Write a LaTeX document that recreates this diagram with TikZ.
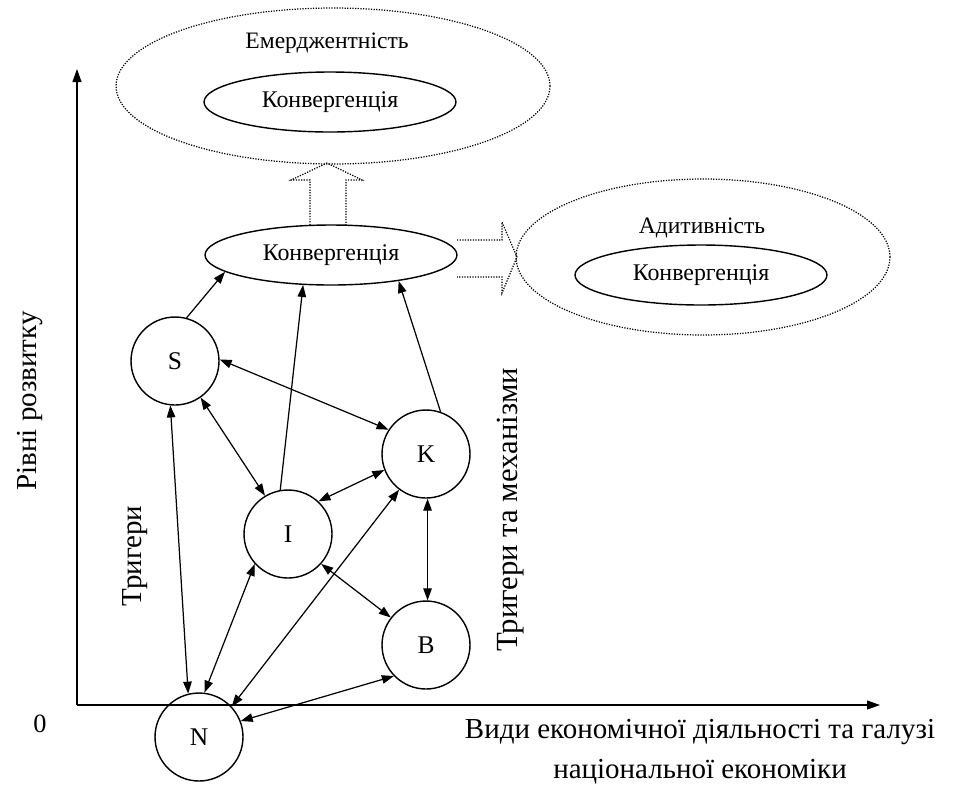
\documentclass[tikz,border=0pt]{standalone}
\usepackage{fontspec}
\setmainfont{Liberation Serif}
\usetikzlibrary{shapes.geometric,arrows.meta}

\begin{document}
\begin{tikzpicture}[x=0.02cm,y=-0.02cm,
  circ/.style={circle,draw,line width=0.8pt,minimum size=1.76cm,inner sep=0pt,
    font=\fontsize{14.5}{16}\selectfont},
  oval/.style={ellipse,draw,line width=0.8pt,minimum width=5.04cm,minimum height=1.2cm,
    inner sep=0pt,font=\fontsize{13.6}{15}\selectfont},
  dotoval/.style={ellipse,draw,line width=0.7pt,dash pattern=on 0.7pt off 0.8pt,inner sep=0pt},
  hollow/.style={line width=0.7pt,dash pattern=on 0.7pt off 0.8pt},
  link/.style={line width=0.7pt,-{Triangle[length=2.4mm,width=1.7mm]}},
  twoway/.style={line width=0.7pt,
    {Triangle[length=2.4mm,width=1.7mm]}-{Triangle[length=2.4mm,width=1.7mm]}},
  axis/.style={line width=0.6pt,-{Triangle[length=2.6mm,width=1.8mm]}},
  big/.style={font=\fontsize{16.5}{22.7}\selectfont},
  small/.style={font=\fontsize{13.4}{15}\selectfont}]
\useasboundingbox (0,0) rectangle (959,789);

\coordinate (o) at (77,705);
\draw[axis] (o) -- (77,69);
\draw[axis] (o) -- (880,705);
\node[font=\fontsize{15}{16}\selectfont] (zero) at (40,724) {0};
\node[big,rotate=90] (ylab) at (30,401) {Рівні розвитку};
\node[big,align=center] (xlab) at (700,752) {Види економічної діяльності та галузі\\
  національної економіки};
\node[big,rotate=90] (trig) at (135,556) {Тригери};
\node[big,rotate=90,font=\fontsize{17.5}{20}\selectfont] (trigmech) at (511,510) {Тригери та механізми};

\node[dotoval,minimum width=8.68cm,minimum height=3.12cm] (emer) at (333,86) {};
\node[small] (emertxt) at (327,43) {Емерджентність};
\node[oval] (emconv) at (330,102) {Конвергенція};

\node[dotoval,minimum width=7.48cm,minimum height=3.12cm] (adit) at (703,257) {};
\node[small] (adittxt) at (702,228) {Адитивність};
\node[oval] (adconv) at (701,275) {Конвергенція};

\node[oval] (conv) at (331,255) {Конвергенція};

\draw[hollow] (310,225)--(310,180)--(291,180)--(327,163)--(362,180)--(346,180)--(346,225);
\draw[hollow] (457,240)--(502,240)--(502,222)--(517,257)--(502,293)--(502,277)--(457,277);

\node[circ] (S) at (175,361) {S};
\node[circ] (K) at (426,454) {K};
\node[circ] (I) at (288,534) {I};
\node[circ] (B) at (426,645) {B};
\node[circ] (N) at (199,737) {N};

\draw[link] (S.75) -- (conv.189);
\draw[link] (I.100) -- (conv.227);
\draw[link] (K.71) -- (conv.339);

\draw[twoway] (S.2) -- (K.147);
\draw[twoway] (S.-55) -- (I.121);
\draw[twoway] (I.47) -- (K.201);
\draw[twoway] (S.264) -- (N.104);
\draw[twoway] (N.83) -- (I.222);
\draw[twoway] (N.43) -- (K.233);
\draw[twoway] (I.318) -- (B.142);
\draw[twoway] (K.272) -- (B.88);
\draw[twoway] (N.21) -- (B.224);
\end{tikzpicture}
\end{document}
